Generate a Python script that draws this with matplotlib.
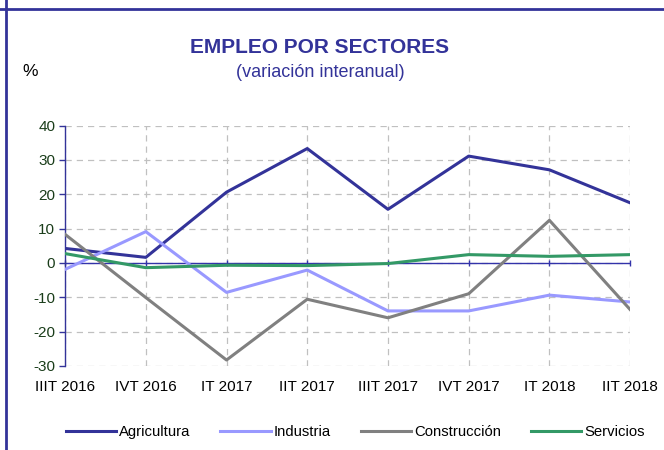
import matplotlib
matplotlib.use("Agg")
import matplotlib.pyplot as plt
from matplotlib.lines import Line2D

plt.rcParams['font.family'] = ['Liberation Sans', 'DejaVu Sans']
plt.rcParams['axes.unicode_minus'] = False

categories = ["IIIT 2016", "IVT 2016", "IT 2017", "IIT 2017", "IIIT 2017", "IVT 2017", "IT 2018", "IIT 2018"]
agricultura = [4.2, 1.6, 20.6, 33.3, 15.6, 31.1, 27.1, 17.5]
industria = [-1.9, 9.1, -8.6, -2.1, -14.0, -14.0, -9.4, -11.4]
construccion = [8.3, -10.1, -28.3, -10.6, -16.0, -9.0, 12.4, -13.6]
servicios = [2.7, -1.4, -0.7, -0.8, -0.2, 2.4, 1.9, 2.4]

series = [("Agricultura", agricultura, "#333399"),
          ("Industria", industria, "#9999ff"),
          ("Construcción", construccion, "#808080"),
          ("Servicios", servicios, "#339966")]

fig = plt.figure(figsize=(6.64, 4.5), dpi=100)
ax = fig.add_axes([0.098, 0.187, 0.851, 0.534])

x = list(range(len(categories)))
ax.set_xlim(0, len(categories) - 1)
ax.set_ylim(-30, 40)

ax.grid(True, color="#c0c0c0", linestyle=(0, (5, 4)), linewidth=0.9)
ax.set_axisbelow(True)

ax.axhline(0, color="#3333aa", linewidth=1.0, zorder=2)

for name, vals, col in series:
    ax.plot(x, vals, color=col, linewidth=2.2, label=name, zorder=3)

for s in ["top", "right", "bottom"]:
    ax.spines[s].set_visible(False)
ax.spines["left"].set_color("#333399")
ax.spines["left"].set_linewidth(1.0)

ax.set_yticks(range(-30, 41, 10))
ax.tick_params(axis="y", colors="#333399", length=4, width=1.0, direction="out", labelsize=11,
               labelcolor="#1a3d1a", pad=3)
ax.set_xticks(x)
ax.tick_params(axis="x", length=0, labelbottom=False)

# small tick marks along the zero line
ax.plot(x, [0] * len(x), linestyle="none", marker="|", markersize=5, color="#3333aa",
        markeredgewidth=1.0, zorder=2, clip_on=False)

sec = ax.secondary_xaxis("bottom")
sec.set_xticks(x)
sec.set_xticklabels(categories)
sec.spines["bottom"].set_visible(False)
sec.tick_params(length=0, labelsize=11, pad=10, labelcolor="black")

fig.text(0.482, 0.895, "EMPLEO POR SECTORES", ha="center", va="center", fontsize=15,
         fontweight="bold", color="#333399")
fig.text(0.482, 0.838, "(variación interanual)", ha="center", va="center", fontsize=13, color="#333399")
fig.text(0.045, 0.84, "%", ha="center", va="center", fontsize=12.5, color="black")

handles = [Line2D([0], [0], color=c, linewidth=2.2) for _, _, c in series]
fig.legend(handles, [n for n, _, _ in series], loc="center", bbox_to_anchor=(0.535, 0.04), ncol=4,
           frameon=False, fontsize=10.7, handlelength=3.4, handletextpad=0.2, columnspacing=2.0)

# frame lines
fig.add_artist(Line2D([0, 1], [1 - 9 / 450, 1 - 9 / 450], transform=fig.transFigure, color="#333399", linewidth=2))
fig.add_artist(Line2D([6 / 664, 6 / 664], [0, 1], transform=fig.transFigure, color="#333399", linewidth=2))

fig.savefig("out.png", dpi=100)
